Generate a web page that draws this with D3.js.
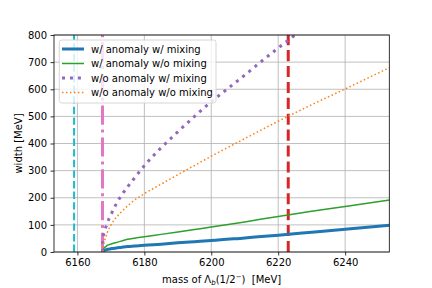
<!DOCTYPE html>
<html>
<head>
<meta charset="utf-8">
<script src="https://cdn.jsdelivr.net/npm/d3@7"></script>
<style>
  html, body { margin: 0; padding: 0; background: #fff; }
  text { font-family: "DejaVu Sans", sans-serif; }
</style>
</head>
<body>
<svg id="chart" width="432" height="288"></svg>
<script>
// mass grid (MeV) shared by three of the curves
const massGrid = [6167.5, 6167.6, 6167.8, 6168, 6168.5, 6169, 6170, 6171, 6172, 6173, 6175, 6177, 6180,
    6185, 6190, 6195, 6200, 6210, 6220, 6230, 6240, 6253.3];
const widthAnomMix   = [0, 2, 4, 6, 8, 10, 12, 14, 15.5, 17, 20, 22, 25, 29, 34, 38, 42, 52, 62, 73, 84, 99];
const widthAnomNoMix = [0, 6, 11, 15, 20, 25, 29, 33, 36.5, 40, 47, 51, 56, 65, 74, 83, 92, 111, 131, 150, 168, 192];
const widthNoAnomNoMix = [0, 15, 28, 38, 56, 74, 99, 118, 133, 146, 170, 191, 215, 250, 285, 319, 353, 418, 482, 543, 601, 680];

// w/o anomaly w/ mixing runs off the top, own grid
const massNoAnomMix  = [6167.5, 6167.55, 6167.7, 6168, 6168.5, 6169, 6170, 6171, 6172, 6173, 6175, 6177, 6180,
    6185, 6190, 6195, 6200, 6205, 6210, 6215, 6220, 6225, 6228];
const widthNoAnomMix = [0, 30, 55, 72, 92, 110, 137, 163, 186, 206, 240, 272, 318,
    384, 443, 500, 554, 603, 652, 703, 752, 800, 830];

const vlineMass = [6159.0, 6167.5, 6223.0];

const xTicks = [6160, 6180, 6200, 6220, 6240];
const yTicks = [0, 100, 200, 300, 400, 500, 600, 700, 800];

const legendLabels = ["w/ anomaly w/ mixing", "w/ anomaly w/o mixing", "w/o anomaly w/ mixing", "w/o anomaly w/o mixing"];

const W = 432, H = 288;
const margin = {left: 54, right: 42.7, top: 35, bottom: 36};

const svg = d3.select("#chart");

const x = d3.scaleLinear().domain([6153.0, 6253.2]).range([margin.left, W - margin.right]);
const y = d3.scaleLinear().domain([0, 800]).range([H - margin.bottom, margin.top]);

svg.append("defs").append("clipPath").attr("id", "plotclip")
    .append("rect")
    .attr("x", margin.left).attr("y", margin.top)
    .attr("width", W - margin.left - margin.right)
    .attr("height", H - margin.top - margin.bottom);

// grid
const grid = svg.append("g");
grid.selectAll("line.gx").data(xTicks).enter().append("line")
    .attr("x1", d => x(d)).attr("x2", d => x(d))
    .attr("y1", y(0)).attr("y2", y(800))
    .attr("stroke", "#b0b0b0").attr("stroke-width", 0.8);
grid.selectAll("line.gy").data(yTicks).enter().append("line")
    .attr("y1", d => y(d)).attr("y2", d => y(d))
    .attr("x1", margin.left).attr("x2", W - margin.right)
    .attr("stroke", "#b0b0b0").attr("stroke-width", 0.8);

const plot = svg.append("g").attr("clip-path", "url(#plotclip)");

// vertical marker lines (drawn bottom -> top like axvline)
const vstyles = [
    {color: "#17becf", width: 2, dash: "7.4,3.2"},
    {color: "#e377c2", width: 3, dash: "19.2,4.8,3,4.8"},
    {color: "#d62728", width: 3, dash: "11.1,4.8"}
];
vlineMass.forEach((m, i) => {
    plot.append("line")
        .attr("x1", x(m)).attr("x2", x(m))
        .attr("y1", y(0)).attr("y2", y(800))
        .attr("stroke", vstyles[i].color)
        .attr("stroke-width", vstyles[i].width)
        .attr("stroke-dasharray", vstyles[i].dash);
});

const line = d3.line()
    .x(d => x(d[0]))
    .y(d => y(d[1]))
    .curve(d3.curveMonotoneX);

const series = [
    {mass: massGrid, width: widthAnomMix, color: "#1f77b4", lw: 3, dash: null},
    {mass: massGrid, width: widthAnomNoMix, color: "#2ca02c", lw: 1.5, dash: null},
    {mass: massNoAnomMix, width: widthNoAnomMix, color: "#9467bd", lw: 3, dash: "3,4.95"},
    {mass: massGrid, width: widthNoAnomNoMix, color: "#ff7f0e", lw: 1.5, dash: "1.5,2.475"}
];

series.forEach(s => {
    plot.append("path")
        .datum(d3.zip(s.mass, s.width))
        .attr("d", line)
        .attr("fill", "none")
        .attr("stroke", s.color)
        .attr("stroke-width", s.lw)
        .attr("stroke-dasharray", s.dash);
});

// axes
const xAxis = svg.append("g")
    .attr("transform", "translate(0," + y(0) + ")")
    .call(d3.axisBottom(x).tickValues(xTicks).tickSize(3.5).tickPadding(3.5).tickFormat(d3.format("d")));
const yAxis = svg.append("g")
    .attr("transform", "translate(" + margin.left + ",0)")
    .call(d3.axisLeft(y).tickValues(yTicks).tickSize(3.5).tickPadding(3.5).tickFormat(d3.format("d")));

[xAxis, yAxis].forEach(a => {
    a.select(".domain").remove();
    a.selectAll(".tick line").attr("stroke", "#000").attr("stroke-width", 0.8);
    a.selectAll(".tick text").attr("font-family", "DejaVu Sans").attr("font-size", 10).attr("fill", "#000");
});

// spines
svg.append("rect")
    .attr("x", margin.left).attr("y", margin.top)
    .attr("width", W - margin.left - margin.right)
    .attr("height", H - margin.top - margin.bottom)
    .attr("fill", "none").attr("stroke", "#000").attr("stroke-width", 0.8);

// axis labels
const xl = svg.append("text")
    .attr("x", (margin.left + W - margin.right) / 2)
    .attr("y", 283)
    .attr("text-anchor", "middle")
    .attr("font-size", 10);
xl.append("tspan").text("mass of Λ");
xl.append("tspan").attr("font-size", 7).attr("font-style", "italic").attr("dy", 2).text("b");
xl.append("tspan").attr("dy", -2).text("(1/2");
xl.append("tspan").attr("font-size", 7).attr("dy", -4).text("−");
xl.append("tspan").attr("dy", 4).text(")\u00a0 [MeV]");

svg.append("text")
    .attr("transform", "translate(18," + ((margin.top + H - margin.bottom) / 2) + ") rotate(-90)")
    .attr("text-anchor", "middle")
    .attr("dy", "0.35em")
    .attr("font-size", 10)
    .text("width [MeV]");

// legend
const lg = svg.append("g");
lg.append("rect")
    .attr("x", 59.3).attr("y", 40)
    .attr("width", 156.7).attr("height", 63)
    .attr("rx", 2.5)
    .attr("fill", "#fff").attr("fill-opacity", 0.8)
    .attr("stroke", "#cccccc").attr("stroke-width", 0.8);

const rowY = [49, 63.5, 78, 92.5];
series.forEach((s, i) => {
    lg.append("line")
        .attr("x1", 62).attr("x2", 84)
        .attr("y1", rowY[i]).attr("y2", rowY[i])
        .attr("stroke", s.color)
        .attr("stroke-width", s.lw)
        .attr("stroke-dasharray", s.dash);
    lg.append("text")
        .attr("x", 91).attr("y", rowY[i])
        .attr("dy", "0.35em")
        .attr("font-size", 10)
        .attr("fill", "#000")
        .text(legendLabels[i]);
});
</script>
</body>
</html>
